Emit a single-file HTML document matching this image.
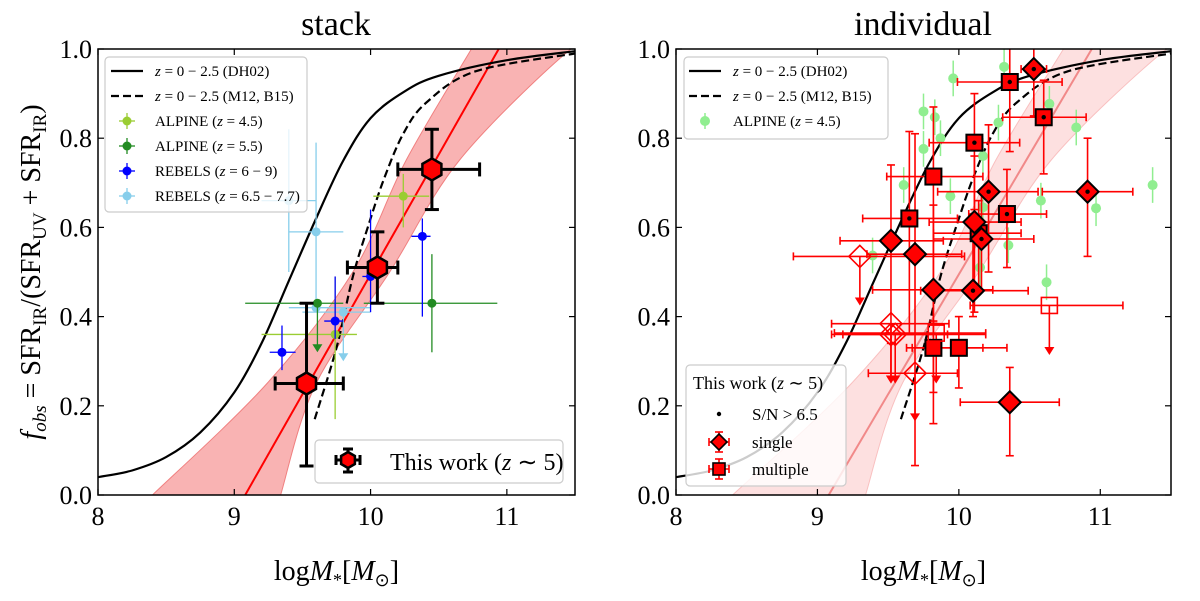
<!DOCTYPE html>
<html><head><meta charset="utf-8"><style>
body{margin:0;background:#fff}
svg{display:block;font-family:"Liberation Serif",serif}
</style></head><body>
<svg id="c" width="1200" height="601" viewBox="0 0 1200 601" xmlns="http://www.w3.org/2000/svg"></svg>
<script>
// ---- data ----
const xTicks=[8,9,10,11];
const yTicks=[0,0.2,0.4,0.6,0.8,1.0];
const dh02M=[8,8.25,8.5,8.75,9.0,9.2,9.4,9.6,9.8,10.0,10.25,10.5,11,11.5];
const dh02F=[0.040,0.055,0.085,0.14,0.23,0.34,0.48,0.62,0.75,0.845,0.905,0.94,0.975,0.995];
const m12M=[9.59,9.75,9.87,9.99,10.1,10.24,10.41,10.77,11.5];
const m12F=[0.17,0.33,0.49,0.61,0.71,0.81,0.88,0.95,0.99];
const fitM=[9.08,10.94];
const fitF=[0,1];
const bandUpM=[8.40,9.24,9.87,10.26,10.74];
const bandUpF=[0,0.25,0.5,0.75,1.0];
const bandLoM=[9.34,9.6,10.14,10.65,11.43,11.6];
const bandLoF=[0,0.25,0.5,0.75,0.99,1.0];
const stackM=[9.53,10.05,10.45];
const stackF=[0.25,0.51,0.73];
const stackMlo=[9.3,9.83,10.2], stackMhi=[9.8,10.2,10.8];
const stackFlo=[0.065,0.43,0.64], stackFhi=[0.43,0.59,0.82];
const alp45M=[9.74,10.24], alp45F=[0.36,0.67], alp45Mlo=[9.2,10.02], alp45Mhi=[9.9,10.43], alp45Flo=[0.17,0.6], alp45Fhi=[0.49,0.72];
const alp55M=[9.61,10.45], alp55F=[0.43,0.43], alp55Mlo=[9.08,9.95], alp55Mhi=[9.8,10.93], alp55Flo=[0.32,0.32], alp55Fhi=[0.43,0.54], alp55Lim=[1,0];
const rebM=[9.35,9.74,10.0,10.38], rebF=[0.32,0.39,0.49,0.58], rebMlo=[9.26,9.66,9.94,10.3], rebMhi=[9.45,9.8,10.02,10.44], rebFlo=[0.28,0.35,0.41,0.40], rebFhi=[0.38,0.49,0.64,0.62];
const reb2M=[9.6,9.4,9.6,9.8], reb2F=[0.59,0.66,0.42,0.41], reb2Mlo=[9.4,9.2,9.4,9.5], reb2Mhi=[9.8,9.6,10.0,10.0], reb2Flo=[0.42,0.5,0.42,0.30], reb2Fhi=[0.79,0.82,0.42,0.41], reb2Lim=[0,0,0,1];
const indT=["s","s","s","s","s","s","s","s","s","s","s","d","d","d","d","d","d","d","d","d","d","d","d","d","d","d"];
const indFill=[1,1,1,1,1,1,1,1,1,0,0,1,1,1,1,1,1,1,1,1,1,0,0,0,0,0];
const indDot=[1,1,1,0,1,1,1,0,0,0,0,1,1,1,0,1,0,0,0,1,0,0,0,0,0,0];
const indM=[10.36,10.60,10.11,9.82,9.65,10.34,10.14,9.82,10.0,10.64,9.84,10.53,10.21,10.91,10.11,10.16,9.52,9.69,9.82,10.10,10.36,9.30,9.52,9.52,9.55,9.69];
const indF=[0.926,0.847,0.79,0.714,0.62,0.63,0.587,0.33,0.33,0.425,0.363,0.955,0.68,0.68,0.612,0.574,0.57,0.54,0.46,0.458,0.208,0.535,0.384,0.36,0.36,0.273];
const indMlo=[9.99,10.31,9.79,9.49,9.32,10.07,9.82,9.63,9.67,10.08,9.12,10.44,9.85,10.59,9.79,9.82,9.16,9.35,9.39,9.73,10.01,8.83,9.10,9.10,9.18,9.36];
const indMhi=[10.73,10.90,10.43,10.17,9.99,10.62,10.44,10.17,10.34,11.16,10.19,10.62,10.56,11.23,10.44,10.53,9.89,10.02,10.24,10.49,10.71,10.04,9.93,9.92,10.19,9.99];
const indFlo=[0.77,0.72,0.64,0.385,0.36,0.51,0.46,0.23,0.24,0.314,0.25,0.85,0.50,0.535,0.41,0.46,0.34,0.066,0.16,0.40,0.088,0.425,0.25,0.25,0.25,0.165];
const indFhi=[1.02,0.93,0.90,0.87,0.815,0.73,0.66,0.39,0.40,0.425,0.363,1.02,0.83,0.80,0.76,0.68,0.74,0.81,0.65,0.63,0.286,0.535,0.384,0.36,0.36,0.273];
const indLim=[0,0,0,0,0,0,0,0,0,1,1,0,0,0,0,0,0,0,0,0,0,1,1,1,1,1];
const grnM=[9.96,10.32,10.64,9.75,9.83,9.87,9.75,10.28,10.83,10.17,9.61,9.94,10.58,10.97,11.37,10.17,10.35,9.39,10.15,10.62];
const grnF=[0.934,0.96,0.877,0.86,0.847,0.80,0.776,0.835,0.824,0.76,0.695,0.67,0.66,0.643,0.695,0.645,0.56,0.537,0.51,0.477];

const svg=document.getElementById('c');
const NS='http://www.w3.org/2000/svg';
function mk(tag,attrs,parent,text){const e=document.createElementNS(NS,tag);for(const k in attrs)e.setAttribute(k,attrs[k]);if(text!==undefined)e.textContent=text;(parent||svg).appendChild(e);return e;}

function panel(x0,x1,id){
  const y0=49,y1=495;
  const X=m=>x0+(m-8)/3.5*(x1-x0);
  const Y=f=>y1-f*(y1-y0);
  const g=mk('g',{});
  
  
  const cid='clip-'+id;
  const cp=mk('clipPath',{id:cid},g);mk('rect',{x:x0,y:y0,width:x1-x0,height:y1-y0},cp);
  const pl=mk('g',{'clip-path':'url(#'+cid+')'},g);
  return {g,pl,X,Y,x0,x1,y0,y1};
}
function pts(P,ms,fs){return ms.map((m,i)=>[P.X(m),P.Y(fs[i])]);}
function poly(P,ms,fs){return pts(P,ms,fs).map(p=>p[0].toFixed(1)+','+p[1].toFixed(1)).join(' ');}
function smooth(p){
  let d='M'+p[0][0].toFixed(1)+','+p[0][1].toFixed(1);
  for(let i=0;i<p.length-1;i++){
    const p0=p[Math.max(0,i-1)],p1=p[i],p2=p[i+1],p3=p[Math.min(p.length-1,i+2)];
    const c1=[p1[0]+(p2[0]-p0[0])/6,p1[1]+(p2[1]-p0[1])/6];
    const c2=[p2[0]-(p3[0]-p1[0])/6,p2[1]-(p3[1]-p1[1])/6];
    d+=` C${c1[0].toFixed(1)},${c1[1].toFixed(1)} ${c2[0].toFixed(1)},${c2[1].toFixed(1)} ${p2[0].toFixed(1)},${p2[1].toFixed(1)}`;
  }
  return d;
}
function axes(P){
  const {g,X,Y,x0,x1,y0,y1}=P;
  xTicks.forEach(t=>{
    mk('line',{x1:X(t),x2:X(t),y1:y1,y2:y1-6,stroke:'#000','stroke-width':1.2},g);
    mk('line',{x1:X(t),x2:X(t),y1:y0,y2:y0+6,stroke:'#000','stroke-width':1.2},g);
    const tl=mk('text',{x:X(t),y:y1+30,'font-size':26,'text-anchor':'middle'},g,String(t));
    
    
  });
  yTicks.forEach(t=>{
    mk('line',{x1:x0,x2:x0+6,y1:Y(t),y2:Y(t),stroke:'#000','stroke-width':1.2},g);
    mk('line',{x1:x1,x2:x1-6,y1:Y(t),y2:Y(t),stroke:'#000','stroke-width':1.2},g);
    const tl=mk('text',{x:x0-6,y:Y(t)+9,'font-size':26,'text-anchor':'end'},g,t.toFixed(1));
    
    
  });
  const fr=mk('rect',{x:x0,y:y0,width:x1-x0,height:y1-y0,fill:'none',stroke:'#000','stroke-width':1.5},g);
  
  
  const xl=mk('text',{x:(x0+x1)/2,y:580,'font-size':28,'text-anchor':'middle'},g);
  
  
  xl.innerHTML='log<tspan font-style="italic">M</tspan><tspan font-size="18" dy="6">*</tspan><tspan dy="-6">[</tspan><tspan font-style="italic">M</tspan><tspan font-size="18" dy="6">⊙</tspan><tspan dy="-6">]</tspan>';
}
function models(P,bandFill,bandStroke,lineCol,lineOp){
  const up=pts(P,bandUpM,bandUpF), lo=pts(P,bandLoM,bandLoF).reverse();
  const sl=smooth(lo);
  let d=smooth(up)+' L'+lo[0][0].toFixed(1)+','+lo[0][1].toFixed(1)+sl.slice(sl.indexOf(' C'))+' Z';
  const b=mk('path',{d:d,fill:bandFill,stroke:bandStroke,'stroke-width':1},P.pl);
  
  
  const f=mk('polyline',{points:poly(P,fitM,fitF),fill:'none',stroke:lineCol,'stroke-width':2,'stroke-opacity':lineOp},P.pl);
  
  
  const dd=mk('path',{d:smooth(pts(P,dh02M,dh02F)),fill:'none',stroke:'#000','stroke-width':2.2},P.pl);
  
  
  const m=mk('path',{d:smooth(pts(P,m12M,m12F)),fill:'none',stroke:'#000','stroke-width':2.2,'stroke-dasharray':'8,4'},P.pl);
  
  
}
function err(P,par,col,m,f,mlo,mhi,flo,fhi,lim,w,cap){
  mk('line',{x1:P.X(mlo),x2:P.X(mhi),y1:P.Y(f),y2:P.Y(f),stroke:col,'stroke-width':w},par);
  if(lim){
    mk('line',{x1:P.X(m),x2:P.X(m),y1:P.Y(f),y2:P.Y(flo)-6,stroke:col,'stroke-width':w},par);
    const x=P.X(m),y=P.Y(flo);
    mk('polygon',{points:`${x-5},${y-8} ${x+5},${y-8} ${x},${y}`,fill:col},par);
  } else mk('line',{x1:P.X(m),x2:P.X(m),y1:P.Y(fhi),y2:P.Y(flo),stroke:col,'stroke-width':w},par);
  if(cap){
    [P.X(mlo),P.X(mhi)].forEach(x=>mk('line',{x1:x,x2:x,y1:P.Y(f)-cap,y2:P.Y(f)+cap,stroke:col,'stroke-width':w},par));
    if(!lim)[P.Y(fhi),P.Y(flo)].forEach(y=>mk('line',{x1:P.X(m)-cap,x2:P.X(m)+cap,y1:y,y2:y,stroke:col,'stroke-width':w},par));
  }
}
function series(P,name,col,M,F,Mlo,Mhi,Flo,Fhi,Lim){
  const g=mk('g',{},P.pl);
  
  
  M.forEach((m,i)=>{
    err(P,g,col,m,F[i],Mlo[i],Mhi[i],Flo[i],Fhi[i],Lim?Lim[i]:0,1.3,0);
    const c=mk('circle',{cx:P.X(m),cy:P.Y(F[i]),r:4.5,fill:col},g);
    
    
  });
}
function hexagon(x,y,r,par){
  let p=[];for(let k=0;k<6;k++){const a=Math.PI/6+k*Math.PI/3;p.push((x+r*Math.cos(a)).toFixed(1)+','+(y+r*Math.sin(a)).toFixed(1));}
  return mk('polygon',{points:p.join(' '),fill:'#f00',stroke:'#000','stroke-width':2.5},par);
}
function legendBox(g,x,y,w,h){mk('rect',{x,y,width:w,height:h,rx:4,fill:'#fff','fill-opacity':0.8,stroke:'#ccc','stroke-width':1.2},g);}

const t1=mk('text',{x:336,y:35,'font-size':34,'text-anchor':'middle'},svg,'stack');

const t2=mk('text',{x:923,y:35,'font-size':34,'text-anchor':'middle'},svg,'individual');

const yl=mk('text',{x:0,y:0,'font-size':28,'text-anchor':'middle',transform:'translate(40,272) rotate(-90)'},svg);

yl.innerHTML='<tspan font-style="italic">f</tspan><tspan font-style="italic" font-size="19" dy="6">obs</tspan><tspan dy="-6"> = SFR</tspan><tspan font-size="19" dy="6">IR</tspan><tspan dy="-6">/(SFR</tspan><tspan font-size="19" dy="6">UV</tspan><tspan dy="-6"> + SFR</tspan><tspan font-size="19" dy="6">IR</tspan><tspan dy="-6">)</tspan>';

const L=panel(98,575,'stack');
models(L,'#f9b3b3','#f08080','#f00',1);
series(L,'rebels-6.5-7.7','#87ceeb',reb2M,reb2F,reb2Mlo,reb2Mhi,reb2Flo,reb2Fhi,reb2Lim);
series(L,'alpine-4.5','#9acd32',alp45M,alp45F,alp45Mlo,alp45Mhi,alp45Flo,alp45Fhi,null);
series(L,'alpine-5.5','#228b22',alp55M,alp55F,alp55Mlo,alp55Mhi,alp55Flo,alp55Fhi,alp55Lim);
series(L,'rebels-6-9','#0000ff',rebM,rebF,rebMlo,rebMhi,rebFlo,rebFhi,null);
const sg=mk('g',{},L.pl);


stackM.forEach((m,i)=>{
  err(L,sg,'#000',m,stackF[i],stackMlo[i],stackMhi[i],stackFlo[i],stackFhi[i],0,3,7);
  const h=hexagon(L.X(m),L.Y(stackF[i]),11,sg);
  
  
});
axes(L);
const lg1=mk('g',{},L.g);


legendBox(lg1,105,57,202,155);
const lgItems=[['line','#000','z = 0 − 2.5 (DH02)'],['dash','#000','z = 0 − 2.5 (M12, B15)'],['pt','#9acd32','ALPINE (z = 4.5)'],['pt','#228b22','ALPINE (z = 5.5)'],['pt','#0000ff','REBELS (z = 6 − 9)'],['pt','#87ceeb','REBELS (z = 6.5 − 7.7)']];
function legendEntry(g,x,y,kind,col,label){
  const e=mk('g',{},g);
  
  
  if(kind==='line')mk('line',{x1:x,x2:x+32,y1:y,y2:y,stroke:col,'stroke-width':2.2},e);
  else if(kind==='dash')mk('line',{x1:x,x2:x+32,y1:y,y2:y,stroke:col,'stroke-width':2.2,'stroke-dasharray':'8,4'},e);
  else{mk('line',{x1:x+8,x2:x+24,y1:y,y2:y,stroke:col,'stroke-width':1.3},e);mk('line',{x1:x+16,x2:x+16,y1:y-8,y2:y+8,stroke:col,'stroke-width':1.3},e);mk('circle',{cx:x+16,cy:y,r:4.5,fill:col},e);}
  const t=mk('text',{x:x+44,y:y+5,'font-size':15},e);
  t.innerHTML=label.replace(/z =/,'<tspan font-style="italic">z</tspan> =');
}
lgItems.forEach((it,i)=>legendEntry(lg1,111,71+i*25,it[0],it[1],it[2]));
const lg2=mk('g',{},L.g);


legendBox(lg2,315,440,248,43);
err({X:m=>m,Y:f=>f},lg2,'#000',348,460,336,360,449,472,0,3,5);
hexagon(348,460,8,lg2);
const lt=mk('text',{x:390,y:470,'font-size':24},lg2);
lt.innerHTML='This work (<tspan font-style="italic">z</tspan> ∼ 5)';

const R=panel(676,1171,'individual');
models(R,'#fde0e0','#f9c0c0','#f08080',0.9);
const gg=mk('g',{},R.pl);


grnM.forEach((m,i)=>{
  mk('line',{x1:R.X(m),x2:R.X(m),y1:R.Y(grnF[i]+0.04),y2:R.Y(grnF[i]-0.04),stroke:'#90ee90','stroke-width':1.5},gg);
  const c=mk('circle',{cx:R.X(m),cy:R.Y(grnF[i]),r:5,fill:'#90ee90'},gg);
  
  
});
const ig=mk('g',{},R.pl);


indM.forEach((m,i)=>err(R,ig,'#f00',m,indF[i],indMlo[i],indMhi[i],indFlo[i],indFhi[i],indLim[i],1.6,4));
indM.forEach((m,i)=>{
  const x=R.X(m),y=R.Y(indF[i]);let s;
  if(indT[i]==='s')s=mk('rect',{x:x-8,y:y-8,width:16,height:16,fill:indFill[i]?'#f00':'none',stroke:indFill[i]?'#000':'#f00','stroke-width':indFill[i]?2:1.6},ig);
  else s=mk('polygon',{points:`${x},${y-11} ${x+11},${y} ${x},${y+11} ${x-11},${y}`,fill:indFill[i]?'#f00':'none',stroke:indFill[i]?'#000':'#f00','stroke-width':indFill[i]?2:1.6},ig);
  
  
  if(indDot[i])mk('circle',{cx:x,cy:y,r:2.2,fill:'#000'},ig);
});
axes(R);
const lg3=mk('g',{},R.g);


legendBox(lg3,684,57,204,82);
legendEntry(lg3,689,71,'line','#000','z = 0 − 2.5 (DH02)');
legendEntry(lg3,689,96,'dash','#000','z = 0 − 2.5 (M12, B15)');
const ge=mk('g',{},lg3);


mk('line',{x1:705,x2:705,y1:113,y2:129,stroke:'#90ee90','stroke-width':1.5},ge);
mk('circle',{cx:705,cy:121,r:5,fill:'#90ee90'},ge);
mk('text',{x:733,y:126,'font-size':15},ge).innerHTML='ALPINE (<tspan font-style="italic">z</tspan> = 4.5)';
const lg4=mk('g',{},R.g);


legendBox(lg4,686,365,160,121);
mk('text',{x:693,y:389,'font-size':18},lg4).innerHTML='This work (<tspan font-style="italic">z</tspan> ∼ 5)';
mk('circle',{cx:719,cy:414,r:2.2,fill:'#000'},lg4);
mk('text',{x:752,y:420,'font-size':17},lg4,'S/N > 6.5');
[['d','single',442],['s','multiple',469]].forEach(it=>{
  const x=719,y=it[2];
  const e=mk('g',{},lg4);
  
  
  err({X:m=>m,Y:f=>f},e,'#f00',x,y,x-10,x+10,y+10,y-10,0,1.6,4);
  if(it[0]==='d')mk('polygon',{points:`${x},${y-8} ${x+8},${y} ${x},${y+8} ${x-8},${y}`,fill:'#f00',stroke:'#000','stroke-width':1.6},e);
  else mk('rect',{x:x-6,y:y-6,width:12,height:12,fill:'#f00',stroke:'#000','stroke-width':1.6},e);
  mk('text',{x:752,y:y+6,'font-size':17},e,it[1]);
});
</script>
</body></html>
